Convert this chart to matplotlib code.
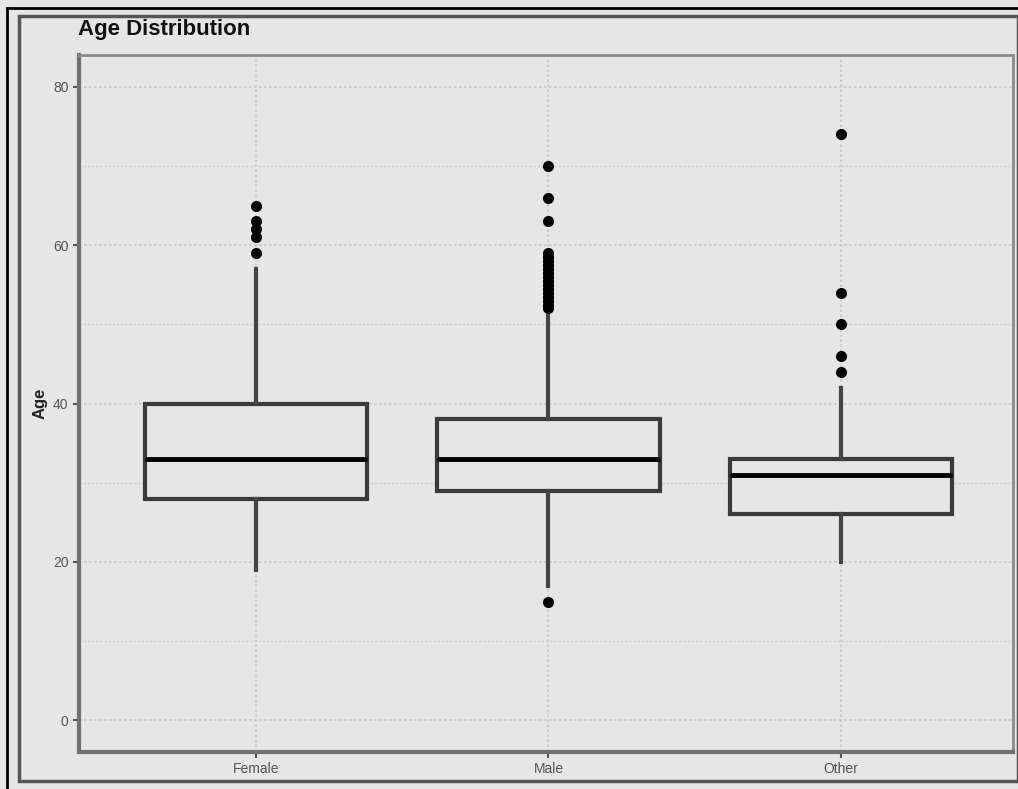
import matplotlib
matplotlib.use("Agg")
import matplotlib.pyplot as plt
from matplotlib.patches import Rectangle
from matplotlib.lines import Line2D

plt.rcParams["font.family"] = ["Liberation Sans", "DejaVu Sans"]

categories = ["Female", "Male", "Other"]
q1 = [28, 29, 26]
med = [33, 33, 31]
q3 = [40, 38, 33]
whislo = [19, 17, 20]
whishi = [57, 51, 42]
outliers_female = [59, 61, 62, 63, 65]
outliers_male = [15, 52, 52.5, 53, 53.5, 54, 54.5, 55, 55.5, 56, 56.5, 57, 57.5, 58, 58.5, 59, 63, 66, 70]
outliers_other = [44, 46, 50, 54, 74]
yticks = [0, 20, 40, 60, 80]

bg = "#e6e6e6"
fig = plt.figure(figsize=(10.18, 7.89), dpi=100, facecolor=bg)
ax = fig.add_axes([0.0776, 0.0469, 0.9174, 0.8833], facecolor=bg)

stats = []
for i, c in enumerate(categories):
    fl = [outliers_female, outliers_male, outliers_other][i]
    stats.append(dict(label=c, q1=q1[i], med=med[i], q3=q3[i],
                      whislo=whislo[i], whishi=whishi[i], fliers=fl))

positions = [1, 2, 3]
ax.bxp(stats, positions=positions, widths=0.76, showcaps=False, patch_artist=True,
       boxprops=dict(facecolor=bg, edgecolor="#3a3a3a", linewidth=3),
       whiskerprops=dict(color="#444444", linewidth=3),
       medianprops=dict(color="black", linewidth=3.5),
       flierprops=dict(marker="o", markerfacecolor="black", markeredgecolor="black",
                       markersize=7, linestyle="none"),
       zorder=3)

ax.set_xlim(0.395, 3.588)
ax.set_ylim(-4.0, 84.0)
ax.set_yticks(yticks)
ax.set_yticks([10, 30, 50, 70], minor=True)
ax.set_xticks(positions)
ax.set_xticklabels(categories)
ax.tick_params(axis="both", colors="#555555", labelcolor="#555555", labelsize=10,
               length=4, width=1.5)
ax.tick_params(axis="y", which="minor", length=0)

ax.grid(True, which="major", color="#c8c8c8", linestyle=(0, (1.5, 1.5)), linewidth=1.2, zorder=0)
ax.grid(True, which="minor", axis="y", color="#cfcfcf", linestyle=(0, (1.5, 1.5)), linewidth=1.0, zorder=0)
ax.set_axisbelow(True)

for s in ["left", "bottom"]:
    ax.spines[s].set_color("#707070")
    ax.spines[s].set_linewidth(3)
for s in ["top", "right"]:
    ax.spines[s].set_color("#8a8a8a")
    ax.spines[s].set_linewidth(2)

ax.set_ylabel("Age", fontsize=12, color="#222222", labelpad=4, fontweight="bold")
fig.text(0.0766, 0.962, "Age Distribution", fontsize=16, color="#111111",
         ha="left", va="center", fontweight="bold")

# outer frames
fig.add_artist(Rectangle((19/1018, 8/789), 1 - 19/1018, 1 - 24/789, transform=fig.transFigure,
                         fill=False, edgecolor="#555555", linewidth=2.5))
fig.add_artist(Line2D([7/1018, 1.0], [1 - 8/789, 1 - 8/789], transform=fig.transFigure,
                      color="black", linewidth=2))
fig.add_artist(Line2D([7/1018, 7/1018], [0.0, 1 - 8/789], transform=fig.transFigure,
                      color="black", linewidth=2))

fig.savefig("out.png", dpi=100, facecolor=bg)
